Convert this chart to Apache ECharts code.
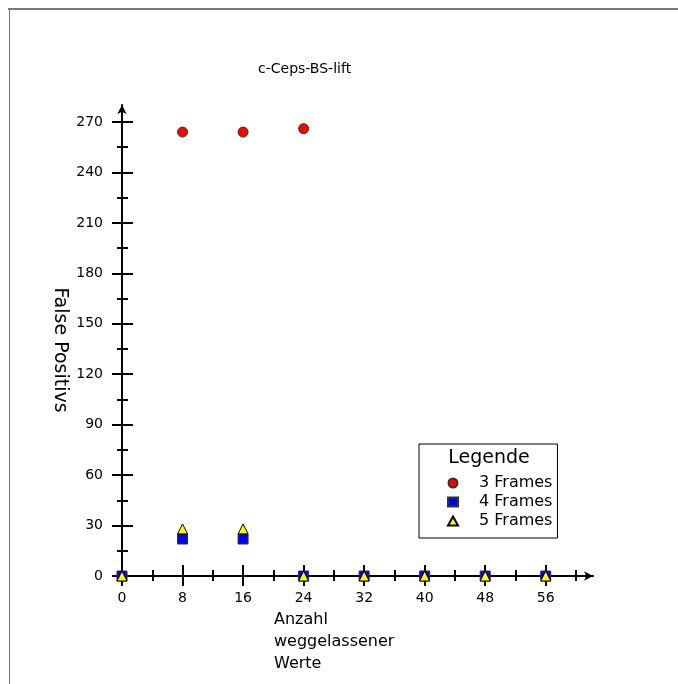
<!DOCTYPE html>
<html>
<head>
<meta charset="utf-8">
<script src="https://cdn.jsdelivr.net/npm/echarts@6/dist/echarts.min.js"></script>
<style>
html,body{margin:0;padding:0;background:#fff;}
#chart{width:678px;height:684px;}
</style>
</head>
<body>
<div id="chart"></div>
<script>
// ---- data ----
const titleText = 'c-Ceps-BS-lift';
const xName = 'Anzahl\nweggelassener\nWerte';
const yName = 'False Positivs';
const legendTitle = 'Legende';
const seriesNames = ['3 Frames', '4 Frames', '5 Frames'];
const xValues = [0, 8, 16, 24, 32, 40, 48, 56];
const frames3 = [0, 264, 264, 266, 0, 0, 0, 0];
const frames4 = [0, 22, 22, 0, 0, 0, 0, 0];
const frames5 = [0, 28, 28, 0, 0, 0, 0, 0];
const xMajorTicks = [0, 8, 16, 24, 32, 40, 48, 56];
const xMinorTicks = [4, 12, 20, 28, 36, 44, 52, 60];
const yMajorTicks = [0, 30, 60, 90, 120, 150, 180, 210, 240, 270];
const yMinorTicks = [15, 45, 75, 105, 135, 165, 195, 225, 255];

const FONT = 'DejaVu Sans';
const toPairs = (ys) => xValues.map((x, i) => [x, ys[i]]);
const axisLineStyle = { color: '#000', width: 2 };

const chart = echarts.init(document.getElementById('chart'), null, { renderer: 'canvas' });
const option = {
  animation: false,
  backgroundColor: '#fff',
  title: {
    text: titleText,
    left: 253, top: 57,
    textStyle: { fontFamily: FONT, fontSize: 14, fontWeight: 'normal', color: '#000' }
  },
  legend: {
    orient: 'vertical',
    left: 419, top: 444,
    padding: [31, 5, 9, 28],
    itemGap: 3,
    itemWidth: 10, itemHeight: 9,
    borderColor: '#000', borderWidth: 1,
    textStyle: { fontFamily: FONT, fontSize: 16, color: '#000', padding: [0, 0, 0, 16] },
    data: seriesNames
  },
  grid: [
    { left: 122, right: 102, top: 122, bottom: 108 },
    { left: 122, right: 85, top: 105, bottom: 108 }
  ],
  xAxis: [
    {
      gridIndex: 0, type: 'value', min: 0, max: 60, position: 'bottom', offset: 10,
      axisLine: { show: false, onZero: false },
      axisTick: { show: true, inside: true, length: 21, customValues: xMajorTicks, lineStyle: axisLineStyle },
      axisLabel: { customValues: xMajorTicks, margin: 5, fontFamily: FONT, fontSize: 14, color: '#000' },
      splitLine: { show: false }
    },
    {
      gridIndex: 0, type: 'value', min: 0, max: 60, position: 'bottom', offset: 5,
      axisLine: { show: false, onZero: false },
      axisTick: { show: true, inside: true, length: 11, customValues: xMinorTicks, lineStyle: axisLineStyle },
      axisLabel: { show: false },
      splitLine: { show: false }
    },
    {
      gridIndex: 1, type: 'value', min: 0, max: 62.24,
      axisLine: { show: true, onZero: true, symbol: ['none', 'arrow'], symbolSize: [7, 9], lineStyle: axisLineStyle },
      axisTick: { show: false }, axisLabel: { show: false }, splitLine: { show: false }
    }
  ],
  yAxis: [
    {
      gridIndex: 0, type: 'value', min: 0, max: 270, position: 'left', offset: 10,
      axisLine: { show: false, onZero: false },
      axisTick: { show: true, inside: true, length: 21, customValues: yMajorTicks, lineStyle: axisLineStyle },
      axisLabel: { customValues: yMajorTicks, margin: 9, fontFamily: FONT, fontSize: 14, color: '#000' },
      splitLine: { show: false }
    },
    {
      gridIndex: 0, type: 'value', min: 0, max: 270, position: 'left', offset: 5,
      axisLine: { show: false, onZero: false },
      axisTick: { show: true, inside: true, length: 11, customValues: yMinorTicks, lineStyle: axisLineStyle },
      axisLabel: { show: false },
      splitLine: { show: false }
    },
    {
      gridIndex: 1, type: 'value', min: 0, max: 280.3,
      axisLine: { show: true, onZero: true, symbol: ['none', 'arrow'], symbolSize: [7, 9], lineStyle: axisLineStyle },
      axisTick: { show: false }, axisLabel: { show: false }, splitLine: { show: false }
    }
  ],
  series: [
    {
      name: seriesNames[0], type: 'scatter', xAxisIndex: 0, yAxisIndex: 0, z: 3,
      symbol: 'circle', symbolSize: 10,
      itemStyle: { color: '#ff0000', borderColor: '#333', borderWidth: 1, opacity: 1 },
      data: toPairs(frames3)
    },
    {
      name: seriesNames[1], type: 'scatter', xAxisIndex: 0, yAxisIndex: 0, z: 4,
      symbol: 'rect', symbolSize: 10,
      itemStyle: { color: '#0000ff', borderColor: '#333', borderWidth: 1, opacity: 1 },
      data: toPairs(frames4)
    },
    {
      name: seriesNames[2], type: 'scatter', xAxisIndex: 0, yAxisIndex: 0, z: 5,
      symbol: 'triangle', symbolSize: 10,
      itemStyle: { color: '#ffff00', borderColor: '#000', borderWidth: 1, opacity: 1 },
      data: toPairs(frames5)
    }
  ],
  graphic: [
    { type: 'line', shape: { x1: 8, y1: 9, x2: 678, y2: 9 }, style: { stroke: '#777', lineWidth: 2 }, silent: true },
    { type: 'line', shape: { x1: 9.5, y1: 8, x2: 9.5, y2: 684 }, style: { stroke: '#777', lineWidth: 1 }, silent: true },
    {
      type: 'text', left: 274, top: 609,
      style: { text: xName, fontFamily: FONT, fontSize: 16, lineHeight: 22, fill: '#000' }
    },
    {
      type: 'text', x: 60, y: 350, rotation: -Math.PI / 2,
      style: { text: yName, fontFamily: FONT, fontSize: 19, fill: '#000', align: 'center', verticalAlign: 'middle' }
    },
    {
      type: 'text', x: 489, y: 458,
      style: { text: legendTitle, fontFamily: FONT, fontSize: 19, fill: '#000', align: 'center', verticalAlign: 'middle' }
    }
  ]
};
chart.setOption(option);
</script>
</body>
</html>
